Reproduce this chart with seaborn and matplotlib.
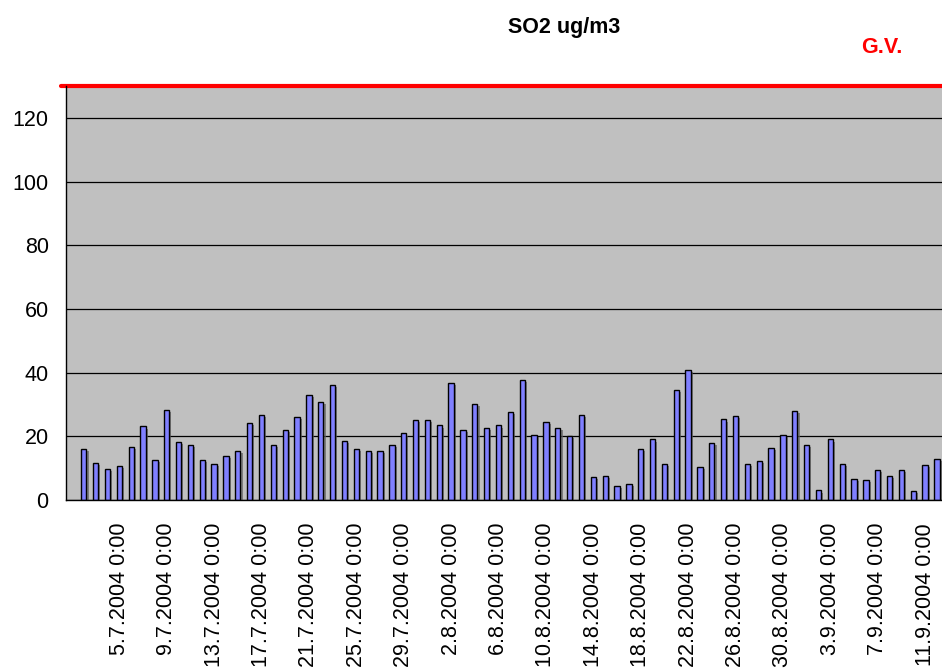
import pandas as pd
import matplotlib
matplotlib.use('Agg')
import matplotlib.pyplot as plt
import matplotlib.patheffects as pe
import seaborn as sns

# Daily SO2 values, 2.7.2004 - 12.9.2004 (1.7.2004 has no value)
july = [16, 11.5, 9.7, 10.8, 16.7, 23.1, 12.6, 28.2, 18.3, 17.4,
        12.6, 11.3, 13.8, 15.3, 24.2, 26.7, 17.4, 22.0, 26.0, 33.1,
        30.8, 36.1, 18.6, 16.1, 15.3, 15.3, 17.4, 20.9, 25.0, 25.0]
august = [23.4, 36.8, 22.0, 30.2, 22.7, 23.4, 27.6, 37.8, 20.5, 24.5,
          22.7, 20.1, 26.7, 7.2, 7.5, 4.3, 4.9, 16.1, 19.0, 11.3,
          34.6, 40.8, 10.5, 17.9, 25.3, 26.3, 11.3, 12.3, 16.4, 20.4, 27.9]
september = [17.4, 3.0, 19.0, 11.3, 6.7, 6.4, 9.4, 7.5, 9.4, 2.7, 10.9, 12.8]
so2 = [float('nan')] + july + august + september

dates = pd.date_range('2004-07-01', periods=len(so2), freq='D')
labels = [f'{d.day}.{d.month}.{d.year} 0:00' for d in dates]
gv_limit = 130

df = pd.DataFrame({'date': labels, 'so2': so2})

sns.set_style('white')
plt.rcParams['font.family'] = ['Liberation Sans', 'DejaVu Sans']
plt.rcParams['text.color'] = 'black'
plt.rcParams['xtick.color'] = 'black'
plt.rcParams['ytick.color'] = 'black'

fig = plt.figure(figsize=(9.42, 6.69), dpi=100)
slot = 11.85
n_slots = 76
ax = fig.add_axes([66 / 942, 169 / 669, n_slots * slot / 942, 414 / 669])
ax.set_facecolor('#C0C0C0')

sns.barplot(data=df, x='date', y='so2', order=labels, color='#8080FF',
            saturation=1, width=0.45, edgecolor='black', linewidth=1,
            errorbar=None, ax=ax)
for p in ax.patches:
    p.set_path_effects([pe.SimplePatchShadow(offset=(1.5, -1.5), shadow_rgbFace='#606060', alpha=0.7),
                        pe.Normal()])

ax.set_xlim(-0.5, n_slots - 0.5)
ax.set_ylim(0, 130)
ax.set_yticks(range(0, 121, 20))
ax.yaxis.grid(True, color='black', linewidth=0.9)
ax.set_axisbelow(True)

# labels every 4 days starting 5.7
idx = list(range(4, len(labels), 4))
ax.set_xticks(idx)
ax.set_xticklabels([labels[i] for i in idx], rotation=90, fontsize=15.5, color='black')
ax.set_xticks([i - 0.5 for i in range(n_slots + 1)], minor=True)
ax.tick_params(axis='x', which='major', length=0, pad=16.5, labelcolor='black')
ax.tick_params(axis='x', which='minor', length=4.3, direction='out', color='black', width=1)
ax.tick_params(axis='y', length=5.5, direction='out', color='black', width=1,
               labelsize=15.5, pad=7, labelcolor='black')
ax.set_xlabel('')
ax.set_ylabel('')

for s in ['top', 'right']:
    ax.spines[s].set_visible(False)
for s in ['left', 'bottom']:
    ax.spines[s].set_color('black')
    ax.spines[s].set_linewidth(1)

# guide value line
ax.axhline(gv_limit, xmin=-0.006, xmax=1, color='red', linewidth=3, clip_on=False)

fig.text(564 / 942, 1 - 33.3 / 669, 'SO2 ug/m3', ha='center', va='baseline',
         fontsize=15.5, fontweight='bold', color='black')
fig.text(882 / 942, 1 - 52.7 / 669, 'G.V.', ha='center', va='baseline',
         fontsize=15.5, fontweight='bold', color='red')

fig.savefig('out.png', dpi=100)
